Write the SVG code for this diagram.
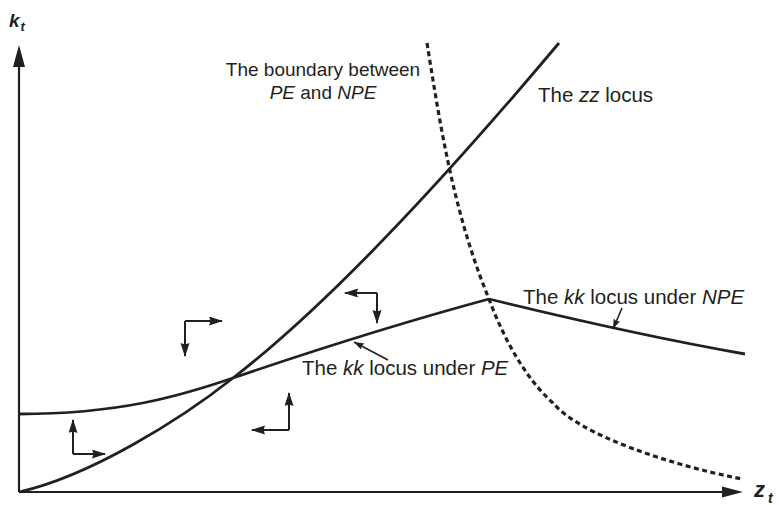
<svg xmlns="http://www.w3.org/2000/svg" width="779" height="505" viewBox="0 0 779 505">
<style>
.t{font-family:"Liberation Sans",Arial,sans-serif;fill:#231f20;font-size:20.5px}
.tb{font-size:19px}
.i{font-style:italic}
.ax{font-family:"Liberation Sans",Arial,sans-serif;fill:#231f20;font-weight:bold;font-style:italic}
.curve{fill:none;stroke:#231f20;stroke-width:2.8}
.axis{fill:none;stroke:#231f20;stroke-width:2.2}
.dash{fill:none;stroke:#231f20;stroke-width:3.2;stroke-dasharray:5 3.5}
.pa{fill:none;stroke:#231f20;stroke-width:2;marker-end:url(#ah)}
.ptr{fill:none;stroke:#231f20;stroke-width:1.6;marker-end:url(#ahs)}
</style>
<defs>
<marker id="ah" markerUnits="userSpaceOnUse" markerWidth="15" markerHeight="10" refX="13" refY="4.5" orient="auto">
<path d="M0,0 L14,4.5 L0,9 L1.5,4.5 z" fill="#231f20"/>
</marker>
<marker id="ahs" markerUnits="userSpaceOnUse" markerWidth="12" markerHeight="8" refX="10" refY="3.5" orient="auto">
<path d="M0,0 L10,3.5 L0,7 L1.5,3.5 z" fill="#231f20"/>
</marker>
</defs>
<rect width="779" height="505" fill="#fff"/>
<g id="axes">
<path class="axis" d="M19,492 V64"/>
<path d="M19,45 L25,67 L13,67 z" fill="#231f20"/>
<path class="axis" d="M19,492 H725"/>
<path d="M743,492 L722,486.5 L722,497.5 z" fill="#231f20"/>
<text class="ax" x="9" y="27" font-size="19">k</text>
<text class="ax" x="20.5" y="31" font-size="13">t</text>
<text class="ax" x="754" y="497" font-size="22">z</text>
<text class="ax" x="768" y="503" font-size="14">t</text>
</g>
<g id="connectors">
<path id="zz-locus" class="curve" d="M19,492 C90,476 180,420 233,378 C333,301 459,162 559,43"/>
<path id="kk-pe" class="curve" d="M19,414 C120,414 180,396 233,378 C318,349 404,322 489,299"/>
<path id="kk-npe" class="curve" d="M489,299 C575,320 660,339 745,354"/>
<path id="boundary" class="dash" d="M427,43 C440.6,128 454,214 489,299 C502,334 523,376 553,403 C580,435 670,465 742,479"/>
<path class="ptr" d="M622,308 L613,329"/>
<path class="ptr" d="M388,360 L354,342"/>
<path class="pa" d="M185,321 H222"/>
<path class="pa" d="M185,321 V356"/>
<path class="pa" d="M377,293 H345"/>
<path class="pa" d="M377,293 V323"/>
<path class="pa" d="M73,454 V420"/>
<path class="pa" d="M73,454 H105"/>
<path class="pa" d="M289,430 V393"/>
<path class="pa" d="M289,430 H252"/>
</g>
<g id="label-boundary">
<text class="t tb" x="323" y="76" text-anchor="middle">The boundary between</text>
<text class="t tb" x="323" y="99" text-anchor="middle"><tspan class="i">PE</tspan> and <tspan class="i">NPE</tspan></text>
</g>
<g id="label-zz">
<text class="t" x="538" y="102">The <tspan class="i">zz</tspan> locus</text>
</g>
<g id="label-kk-npe">
<text class="t" x="523" y="304">The <tspan class="i">kk</tspan> locus under <tspan class="i">NPE</tspan></text>
</g>
<g id="label-kk-pe">
<text class="t" x="302" y="375">The <tspan class="i">kk</tspan> locus under <tspan class="i">PE</tspan></text>
</g>
</svg>
